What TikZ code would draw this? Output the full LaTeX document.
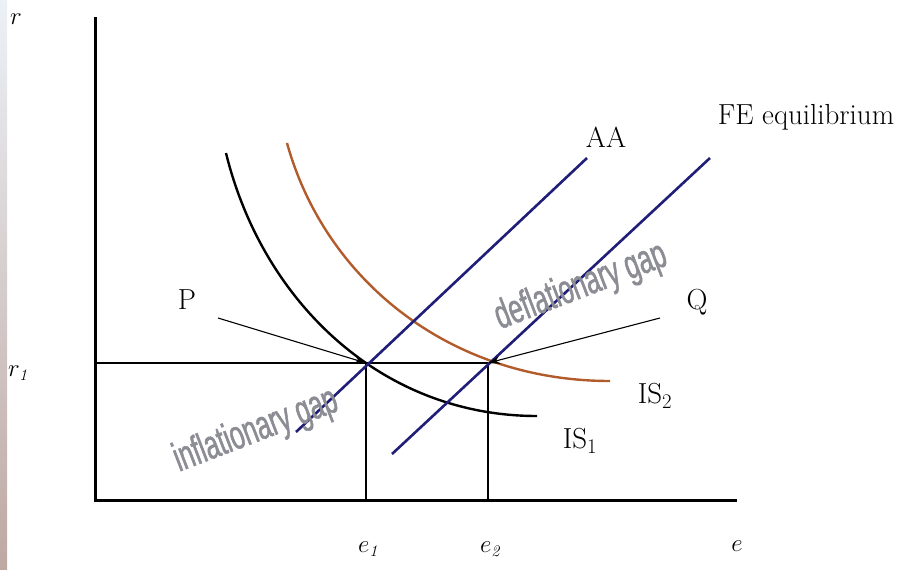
\documentclass[tikz,border=0pt]{standalone}
\usepackage{fontspec}
\usetikzlibrary{arrows.meta}
\newfontfamily\gapfont[FakeStretch=0.62,FakeBold=1.2]{Liberation Sans}
\definecolor{navyline}{RGB}{32,30,120}
\definecolor{isbrown}{RGB}{178,92,44}
\definecolor{gapgray}{RGB}{140,140,148}
\begin{document}
\begin{tikzpicture}[x=1pt,y=-1pt,
  axisline/.style={line width=3pt,line cap=rect},
  guideline/.style={line width=2.4pt},
  curveline/.style={line width=2.4pt},
  bluelinestyle/.style={line width=2.6pt,navyline},
  pointer/.style={line width=1.1pt,-{Stealth[length=12pt,width=8pt]}},
  lbl/.style={font=\fontsize{29}{32}\selectfont,inner sep=0pt},
  axlbl/.style={font=\fontsize{23}{26}\selectfont,inner sep=0pt},
  gaplbl/.style={font=\gapfont\fontsize{41}{43}\selectfont,text=gapgray,inner sep=0pt}]
\useasboundingbox (0,0) rectangle (913,570);
\shade[top color={rgb,255:red,236;green,241;blue,247},bottom color={rgb,255:red,190;green,168;blue,162}] (0,0) rectangle (7,570);

% axes
\coordinate (ytop) at (95,18);
\coordinate (orig) at (95,500);
\coordinate (xend) at (735,500);
\draw[axisline] (ytop) -- (orig) -- (xend);

% equilibrium points
\coordinate (E1) at (366,363);
\coordinate (E2) at (488,363);
\coordinate (r1axis) at (95,363);
\coordinate (e1axis) at (366,500);
\coordinate (e2axis) at (488,500);
\draw[guideline] (r1axis) -- (E2);
\draw[guideline] (E1) -- (e1axis);
\draw[guideline] (E2) -- (e2axis);

% IS curves
\coordinate (IS1a) at (226,153);
\coordinate (IS1b) at (537,416);
\coordinate (IS2a) at (287,143);
\coordinate (IS2b) at (610,381);
\draw[curveline] (IS1a) .. controls (262,300) and (380,416) .. (IS1b);
\draw[curveline,isbrown] (IS2a) .. controls (325,280) and (450,381) .. (IS2b);

% AA and FE lines
\coordinate (AAlow) at (296,432);
\coordinate (AAhigh) at (587,158);
\coordinate (FElow) at (392,454);
\coordinate (FEhigh) at (710,158);
\draw[bluelinestyle] (AAlow) -- (AAhigh);
\draw[bluelinestyle] (FElow) -- (FEhigh);

% pointers
\coordinate (Pstart) at (218,318);
\coordinate (Qstart) at (660,318);
\draw[pointer] (Pstart) -- (E1);
\draw[pointer] (Qstart) -- (E2);

% labels
\node[lbl] (P) at (187,300) {P};
\node[lbl] (Q) at (697,302) {Q};
\node[lbl] (AA) at (606,137) {AA};
\node[lbl] (FE) at (806,117) {FE equilibrium};
\node[lbl] (IS1) at (580,441) {IS$_1$};
\node[lbl] (IS2) at (655,396) {IS$_2$};
\node[axlbl] (rl) at (16,19) {$r$};
\node[axlbl] (r1l) at (18,373) {$r_{\mathit{1}}$};
\node[axlbl] (e1l) at (368,549) {$e_{\mathit{1}}$};
\node[axlbl] (e2l) at (490,549) {$e_{\mathit{2}}$};
\node[axlbl] (el) at (737,546) {$e$};
\node[gaplbl,rotate=21] (infl) at (256,431) {inflationary gap};
\node[gaplbl,rotate=21] (defl) at (581,287) {deflationary gap};
\end{tikzpicture}
\end{document}
